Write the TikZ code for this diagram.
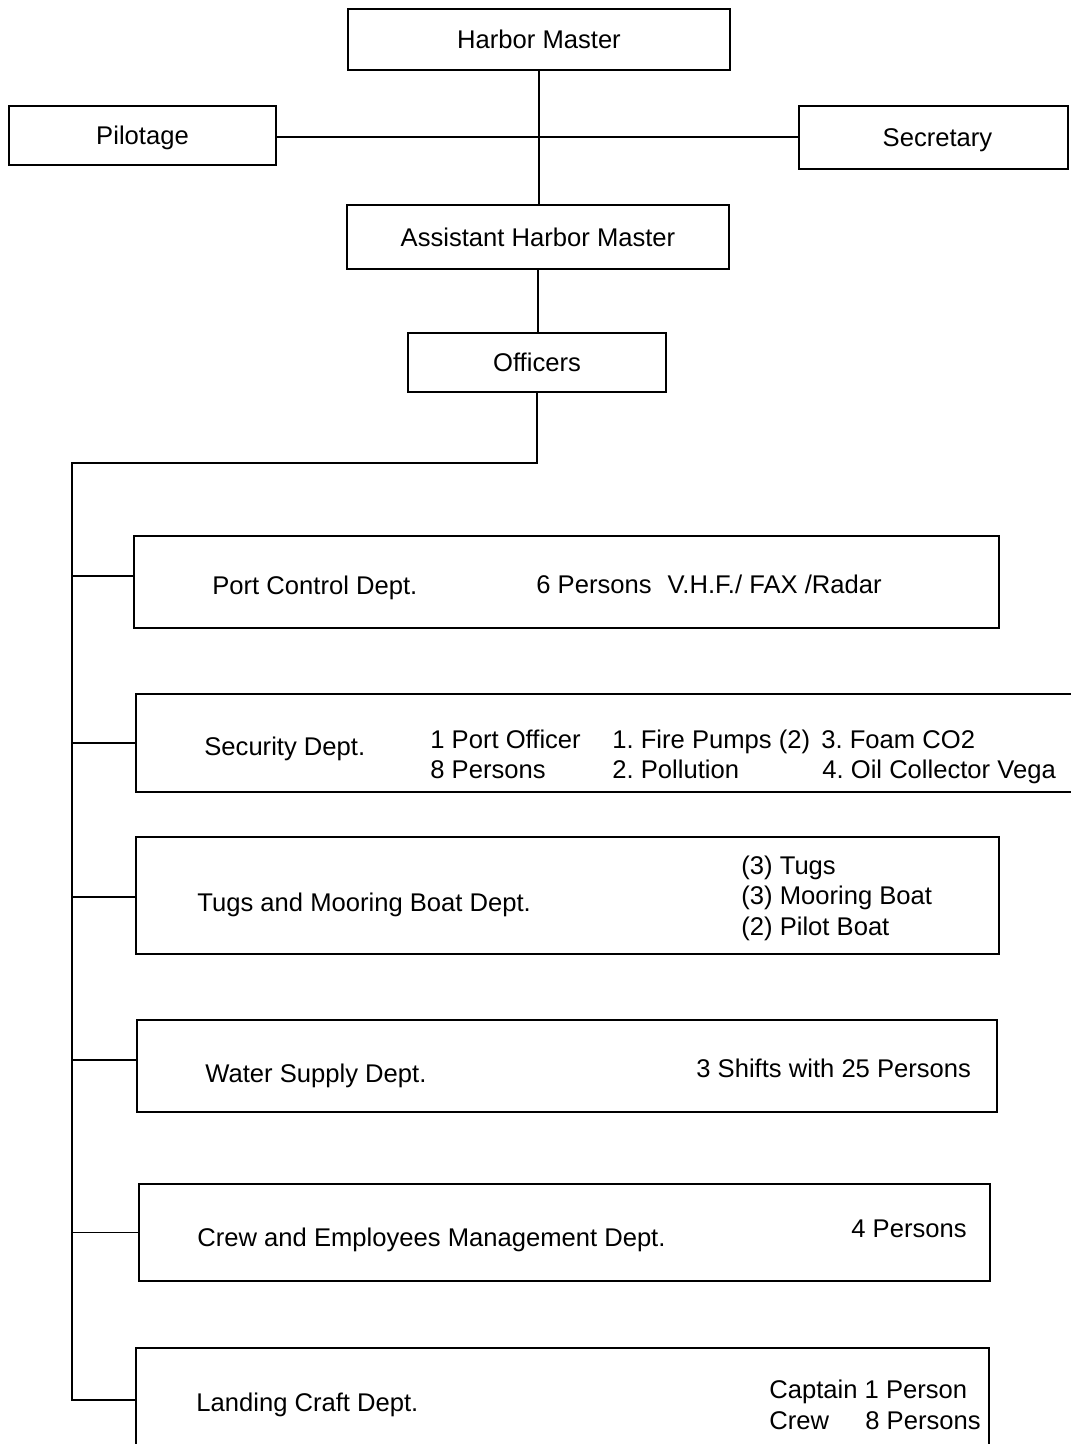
\documentclass[tikz,border=0pt]{standalone}
\usepackage{fontspec}
\setmainfont{Liberation Sans}
\begin{document}
\frenchspacing
\begin{tikzpicture}[x=0.5pt,y=-0.5pt,
  every node/.style={font=\fontsize{12.8pt}{15pt}\selectfont\frenchspacing},
  box/.style={draw, line width=1pt, inner sep=0pt, text height=9.2pt, text depth=0pt},
  lbl/.style={anchor=base west, inner sep=0pt},
  conn/.style={line width=0.8pt}]
\fill[white] (0,0) rectangle (1070,1444);
\useasboundingbox (0,0) rectangle (1070,1444);
% top boxes
\node[box, minimum width=191pt, minimum height=30.5pt] (hm) at (539,39.5) {Harbor Master};
\node[box, minimum width=133.5pt, minimum height=29.5pt] (pil) at (142.5,135.5) {Pilotage};
\node[box, minimum width=134.5pt, minimum height=31.5pt] (sec) at (933.5,137.5) {\hspace{4pt}Secretary};
\node[box, minimum width=191pt, minimum height=32pt] (ahm) at (538,237) {Assistant Harbor Master};
\node[box, minimum width=129pt, minimum height=29.5pt] (off) at (537,362.5) {Officers};
% department boxes
\node[box, minimum width=432.5pt, minimum height=46pt] (port) at (566.5,582) {};
\node[box, minimum width=472pt, minimum height=49pt] (secu) at (608,743) {};
\node[box, minimum width=431.5pt, minimum height=58.5pt] (tugs) at (567.5,895.5) {};
\node[box, minimum width=430pt, minimum height=46pt] (water) at (567,1066) {};
\node[box, minimum width=425.5pt, minimum height=48.5pt] (crew) at (564.5,1232.5) {};
\node[box, minimum width=426.5pt, minimum height=56pt] (land) at (562.5,1404) {};
% branch attachment points
\coordinate (pilE) at ([yshift=-0.75pt]pil.east);
\coordinate (portW) at ([yshift=3pt]port.west);
\coordinate (tugsW) at ([yshift=-0.75pt]tugs.west);
\coordinate (waterW) at ([yshift=3pt]water.west);
\coordinate (landW) at ([yshift=2pt]land.west);
% connectors
\draw[conn] (hm.south) -- (hm.south |- ahm.north);
\draw[conn] (pilE) -- (pilE -| sec.west);
\draw[conn] (ahm.south) -- (ahm.south |- off.north);
\coordinate (trunk) at (72,463);
\draw[conn] (off.south) |- (trunk) -- (trunk |- landW) -- (landW);
\draw[conn] (trunk |- portW) -- (portW);
\draw[conn] (trunk |- secu.west) -- (secu.west);
\draw[conn] (trunk |- tugsW) -- (tugsW);
\draw[conn] (trunk |- waterW) -- (waterW);
\draw[conn] (trunk |- crew.west) -- (crew.west);
% labels
\node[lbl] (portA) at (212,594) {Port Control Dept.};
\node[lbl] (portB) at (536,593) {6 Persons\hspace{0.35em} V.H.F./ FAX /Radar};
\node[lbl] (secA) at (204,755) {Security Dept.};
\node[lbl] (secB1) at (430,748) {1 Port Officer};
\node[lbl] (secB2) at (430,778) {8 Persons};
\node[lbl] (secC1) at (612,748) {1. Fire Pumps (2)};
\node[lbl] (secC2) at (612,778) {2. Pollution};
\node[lbl] (secD1) at (821,748) {3. Foam CO2};
\node[lbl] (secD2) at (822,778) {4. Oil Collector Vega};
\node[lbl] (tugA) at (197,911) {Tugs and Mooring Boat Dept.};
\node[lbl] (tugB1) at (741,874) {(3) Tugs};
\node[lbl] (tugB2) at (741,904) {(3) Mooring Boat};
\node[lbl] (tugB3) at (741,935) {(2) Pilot Boat};
\node[lbl] (watA) at (205,1082) {Water Supply Dept.};
\node[lbl] (watB) at (696,1077) {3 Shifts with 25 Persons};
\node[lbl] (crewA) at (197,1246) {Crew and Employees Management Dept.};
\node[lbl] (crewB) at (851,1237) {4 Persons};
\node[lbl] (landA) at (196,1411) {Landing Craft Dept.};
\node[lbl] (landB1) at (769,1398) {Captain 1 Person};
\node[lbl] (landB2) at (769,1429) {Crew};
\node[lbl] (landB3) at (865,1429) {8 Persons};
\end{tikzpicture}
\end{document}
